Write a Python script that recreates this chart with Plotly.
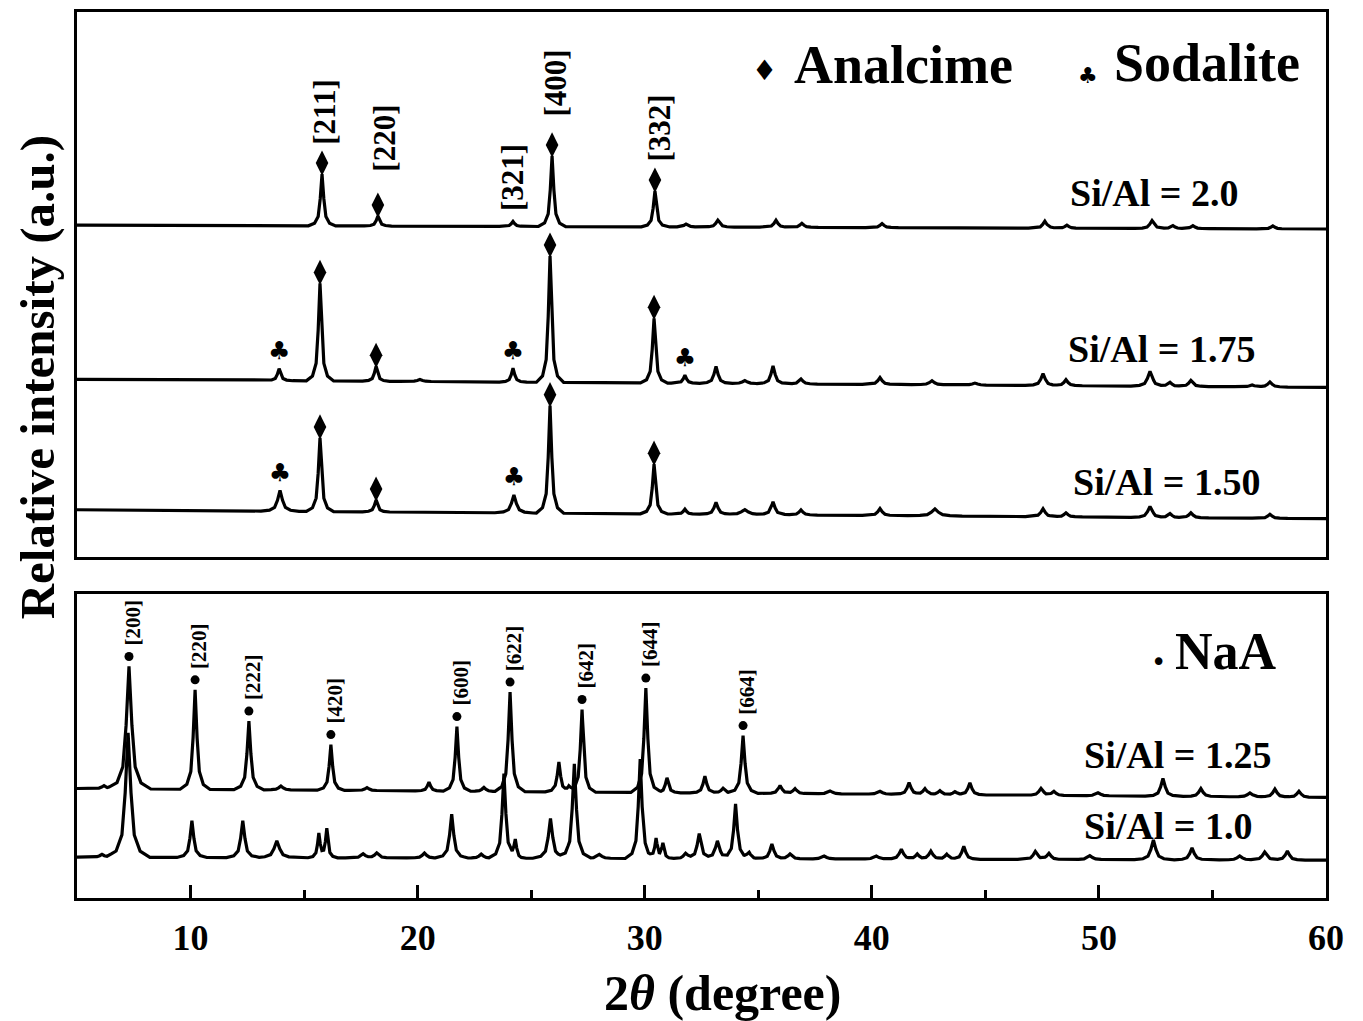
import numpy as np
import plotly.graph_objects as go

# ------------------------------------------------------------------ data
X_RANGE = [5, 60]

# --- upper panel (analcime / sodalite) : peak position (deg), peak height (a.u.), width factor
s20_pos = [15.79, 18.25, 24.2, 25.92, 30.45, 31.82, 33.22, 35.78, 36.92, 40.45, 47.62, 48.59, 52.34, 53.26, 54.14, 57.66]
s20_hgt = [52, 10, 5, 71, 36, 3, 7, 7, 4, 4, 7, 3, 8, 3, 3, 3]
s20_wid = [1, 1, 1, 1, 1, 1.2, 1.2, 1.2, 1.2, 1.2, 1.2, 1.2, 1.3, 1.2, 1.2, 1.2]
s20_base = [333, 329]

s175_pos = [13.9, 15.7, 18.17, 20.1, 24.2, 25.83, 30.41, 31.77, 33.14, 34.41, 35.65, 36.88, 40.36, 42.65, 44.54,
            47.54, 48.55, 52.25, 53.13, 54.05, 56.74, 57.53]
s175_hgt = [12, 98, 15, 2, 14, 127, 65, 8, 17, 3, 18, 5, 7, 4, 2, 12, 6, 15, 4, 6, 2, 5]
s175_wid = [1, 1, 1, 1.5, 1, 1, 1, 1, 1.2, 1.5, 1.2, 1.2, 1.3, 1.5, 1.5, 1.3, 1.2, 1.4, 1.2, 1.3, 1.3, 1.3]
s175_base = [178, 170]

s150_pos = [13.94, 15.7, 18.17, 24.24, 25.83, 30.41, 31.77, 33.14, 34.41, 35.65, 36.88, 40.36, 42.78, 47.54, 48.55,
            52.25, 53.13, 54.05, 57.53]
s150_hgt = [21, 74, 12, 18, 108, 50, 5, 12, 5, 13, 5, 7, 7, 8, 4, 11, 4, 5, 4]
s150_wid = [1.4, 1, 1, 1.4, 1, 1, 1, 1.2, 2, 1.2, 1.2, 1.3, 2, 1.3, 1.2, 1.4, 1.2, 1.3, 1.3]
s150_base = [47, 38]

# --- lower panel (NaA)
s125_pos = [6.19, 7.29, 10.2, 12.57, 13.98, 16.18, 17.77, 20.5, 21.73, 22.92, 24.07, 26.22, 26.66, 27.24, 30.05,
            30.98, 32.65, 33.45, 34.33, 35.96, 36.62, 38.16, 40.36, 41.64, 42.34, 43.0, 43.66, 44.32, 47.45, 48.02,
            49.96, 52.82, 54.49, 56.65, 57.75, 58.81]
s125_hgt = [3, 123, 100, 69, 4, 46, 3, 9, 65, 4, 100, 30, 5, 83, 105, 15, 17, 5, 58, 8, 5, 3, 3, 12, 6, 4, 3, 12,
            7, 4, 3, 18, 8, 4, 8, 6]
s125_wid = [1.3, 1.6, 1.1, 1.1, 1.3, 1, 1.3, 1, 1, 1.2, 1.1, 1, 1, 1, 1.1, 1, 1.1, 1.2, 1.1, 1.2, 1.2, 1.5, 1.5,
            1.2, 1.2, 1.2, 1.2, 1.2, 1.3, 1.3, 1.5, 1.3, 1.3, 1.5, 1.3, 1.3]
s125_base = [110, 101]

s10_pos = [6.1, 7.25, 10.06, 12.3, 13.8, 15.65, 16.0, 17.6, 18.2, 20.3, 21.5, 22.8, 23.8, 24.3, 25.85, 26.9, 28.0,
           29.8, 30.5, 30.8, 31.8, 32.4, 33.2, 34.0, 34.6, 35.6, 36.4, 37.9, 40.2, 41.3, 42.0, 42.6, 43.3, 44.05,
           47.2, 47.8, 49.6, 52.4, 54.1, 56.2, 57.3, 58.3]
s10_hgt = [3, 125, 37, 37, 17, 24, 29, 4, 5, 5, 44, 4, 85, 17, 40, 95, 4, 100, 20, 15, 5, 25, 18, 55, 6, 15, 5, 3,
           3, 10, 5, 8, 5, 13, 8, 6, 4, 20, 12, 4, 8, 9]
s10_wid = [1.3, 1.6, 1.1, 1.2, 1.6, 0.8, 0.8, 1.3, 1.3, 1.3, 1.2, 1.3, 1.1, 0.8, 1.3, 1.2, 1.5, 1.1, 0.8, 0.8, 1.3,
           1.2, 1.3, 1.1, 1.2, 1.2, 1.3, 1.5, 1.5, 1.3, 1.2, 1.3, 1.2, 1.2, 1.3, 1.3, 1.5, 1.4, 1.3, 1.5, 1.4, 1.3]
s10_base = [41, 38]

# phase markers / Miller indices
top_hkl_pos = [15.79, 18.25, 24.2, 25.92, 30.45]
top_hkl_txt = ["[211]", "[220]", "[321]", "[400]", "[332]"]
s20_analcime = [15.79, 18.25, 25.92, 30.45]
s175_analcime = [15.7, 18.17, 25.83, 30.41]
s175_sodalite = [13.9, 24.2, 31.77]
s150_analcime = [15.7, 18.17, 25.83, 30.41]
s150_sodalite = [13.94, 24.24]
naa_pos = [7.29, 10.2, 12.57, 16.18, 21.73, 24.07, 27.24, 30.05, 34.33]
naa_txt = ["[200]", "[220]", "[222]", "[420]", "[600]", "[622]", "[642]", "[644]", "[664]"]

series_labels = ["Si/Al = 2.0", "Si/Al = 1.75", "Si/Al = 1.50", "Si/Al = 1.25", "Si/Al = 1.0"]

# ------------------------------------------------------------------ profile construction
KX = np.array([-0.6, -0.33, -0.17, -0.08, 0.0, 0.08, 0.17, 0.33, 0.6])
KY = np.array([0.0, 0.05, 0.18, 0.52, 1.0, 0.52, 0.18, 0.05, 0.0])


def pattern(pos, hgt, wid, base):
    nodes = [X_RANGE[0], X_RANGE[1]]
    for p, w in zip(pos, wid):
        nodes.extend(list(p + KX * w))
    x = np.array(sorted(set(n for n in nodes if X_RANGE[0] <= n <= X_RANGE[1])))
    y = base[0] + (base[1] - base[0]) * (x - X_RANGE[0]) / (X_RANGE[1] - X_RANGE[0])
    for p, h, w in zip(pos, hgt, wid):
        y = y + np.interp(x, p + KX * w, h * KY, left=0, right=0)
    return x, y


top_series = [(s20_pos, s20_hgt, s20_wid, s20_base),
              (s175_pos, s175_hgt, s175_wid, s175_base),
              (s150_pos, s150_hgt, s150_wid, s150_base)]
bot_series = [(s125_pos, s125_hgt, s125_wid, s125_base),
              (s10_pos, s10_hgt, s10_wid, s10_base)]

FONT = "Liberation Serif"
LW = 3.2
fig = go.Figure()

top_xy = [pattern(*s) for s in top_series]
bot_xy = [pattern(*s) for s in bot_series]

for x, y in top_xy:
    fig.add_trace(go.Scatter(x=x, y=y, mode="lines", line=dict(color="black", width=LW),
                             xaxis="x2", yaxis="y2", showlegend=False, hoverinfo="skip"))
for x, y in bot_xy:
    fig.add_trace(go.Scatter(x=x, y=y, mode="lines", line=dict(color="black", width=LW),
                             xaxis="x", yaxis="y", showlegend=False, hoverinfo="skip"))


def apex(xy, p):
    return float(np.interp(p, xy[0], xy[1]))


# analcime diamonds
for xy, plist in [(top_xy[0], s20_analcime), (top_xy[1], s175_analcime), (top_xy[2], s150_analcime)]:
    fig.add_trace(go.Scatter(x=plist, y=[apex(xy, p) + 11 for p in plist], mode="markers",
                             marker=dict(symbol="diamond-tall", size=18, color="black"),
                             xaxis="x2", yaxis="y2", showlegend=False, hoverinfo="skip"))
# sodalite clubs
for xy, plist in [(top_xy[1], s175_sodalite), (top_xy[2], s150_sodalite)]:
    fig.add_trace(go.Scatter(x=plist, y=[apex(xy, p) + 16 for p in plist], mode="text", text=["♣"] * len(plist),
                             textfont=dict(family="DejaVu Sans", size=25, color="black"),
                             xaxis="x2", yaxis="y2", showlegend=False, hoverinfo="skip"))
# NaA dots
fig.add_trace(go.Scatter(x=naa_pos, y=[apex(bot_xy[0], p) + 10 for p in naa_pos], mode="markers",
                         marker=dict(symbol="circle", size=9, color="black"),
                         xaxis="x", yaxis="y", showlegend=False, hoverinfo="skip"))

ann = []
# Miller indices, upper panel
top_gap = [27, 43, 8, 37, 28]
top_dx = [3, 7, 0, 3, 5]
for p, t, g, dx in zip(top_hkl_pos, top_hkl_txt, top_gap, top_dx):
    ann.append(dict(x=p, y=apex(top_xy[0], p) + g, xref="x2", yref="y2", text=t, textangle=-90,
                    showarrow=False, xanchor="center", yanchor="bottom", xshift=dx,
                    font=dict(family=FONT, size=31, color="black", weight="bold")))
# Miller indices, lower panel
for p, t in zip(naa_pos, naa_txt):
    ann.append(dict(x=p, y=apex(bot_xy[0], p) + 19, xref="x", yref="y", text=t, textangle=-90,
                    showarrow=False, xanchor="center", yanchor="bottom", xshift=4,
                    font=dict(family=FONT, size=21, color="black", weight="bold")))


def px(xp):
    return (xp - 77) / 1249.0


def py(yp):
    return (898 - yp) / 890.0


big = dict(family=FONT, size=54, color="black", weight="bold")
ann += [
    dict(x=px(764), y=py(67), xref="paper", yref="paper", text="♦", showarrow=False,
         font=dict(family="DejaVu Sans", size=28, color="black"), xanchor="center", yanchor="middle"),
    dict(x=px(792), y=py(61), xref="paper", yref="paper", text="Analcime", showarrow=False,
         font=big, xanchor="left", yanchor="middle"),
    dict(x=px(1088), y=py(72), xref="paper", yref="paper", text="♣", showarrow=False,
         font=dict(family="DejaVu Sans", size=22, color="black"), xanchor="center", yanchor="middle"),
    dict(x=px(1112), y=py(59), xref="paper", yref="paper", text="Sodalite", showarrow=False,
         font=big, xanchor="left", yanchor="middle"),
    dict(x=px(1158), y=py(661), xref="paper", yref="paper", text="•", showarrow=False,
         font=dict(family="DejaVu Sans", size=26, color="black"), xanchor="center", yanchor="middle"),
    dict(x=px(1173), y=py(650), xref="paper", yref="paper", text="NaA", showarrow=False,
         font=dict(family=FONT, size=52, color="black", weight="bold"), xanchor="left", yanchor="middle"),
]
lab_px = [(1068, 190), (1066, 347), (1071, 480), (1082, 754), (1082, 826)]
for t, (lx, ly) in zip(series_labels, lab_px):
    ann.append(dict(x=px(lx), y=py(ly), xref="paper", yref="paper", text=t, showarrow=False,
                    font=dict(family=FONT, size=38, color="black", weight="bold"),
                    xanchor="left", yanchor="middle"))
# y-axis title
ann.append(dict(x=px(37), y=py(375), xref="paper", yref="paper", text="Relative intensity (a.u.)",
                textangle=-90, showarrow=False, xanchor="center", yanchor="middle",
                font=dict(family=FONT, size=49, color="black", weight="bold")))
# x-axis title
ann.append(dict(x=px(722), y=py(993), xref="paper", yref="paper", text="2<i>θ</i> (degree)",
                showarrow=False, xanchor="center", yanchor="middle",
                font=dict(family=FONT, size=50, color="black", weight="bold")))

frame = dict(showline=True, linecolor="black", linewidth=3, mirror=True, showgrid=False, zeroline=False)

# the page body adds an 8 px offset; the figure size and margins compensate for it
fig.update_layout(
    width=1355, height=1014,
    margin=dict(l=69, r=37, t=1, b=124),
    paper_bgcolor="white", plot_bgcolor="white",
    showlegend=False,
    xaxis=dict(range=X_RANGE, anchor="y", dtick=10, tick0=0, ticks="inside", ticklen=13, tickwidth=3,
               tickcolor="black", ticklabelstandoff=6,
               minor=dict(ticks="inside", ticklen=8, tickwidth=3, dtick=5, tick0=0, tickcolor="black",
                          showgrid=False),
               tickfont=dict(family=FONT, size=36, color="black", weight="bold"),
               **frame),
    yaxis=dict(domain=[0, 305 / 890], range=[0, 305], showticklabels=False, ticks="", **frame),
    xaxis2=dict(range=X_RANGE, anchor="y2", matches="x", showticklabels=False, ticks="", **frame),
    yaxis2=dict(domain=[343 / 890, 1], range=[0, 547], showticklabels=False, ticks="", **frame),
    annotations=ann,
)

fig.write_html("out.html")
